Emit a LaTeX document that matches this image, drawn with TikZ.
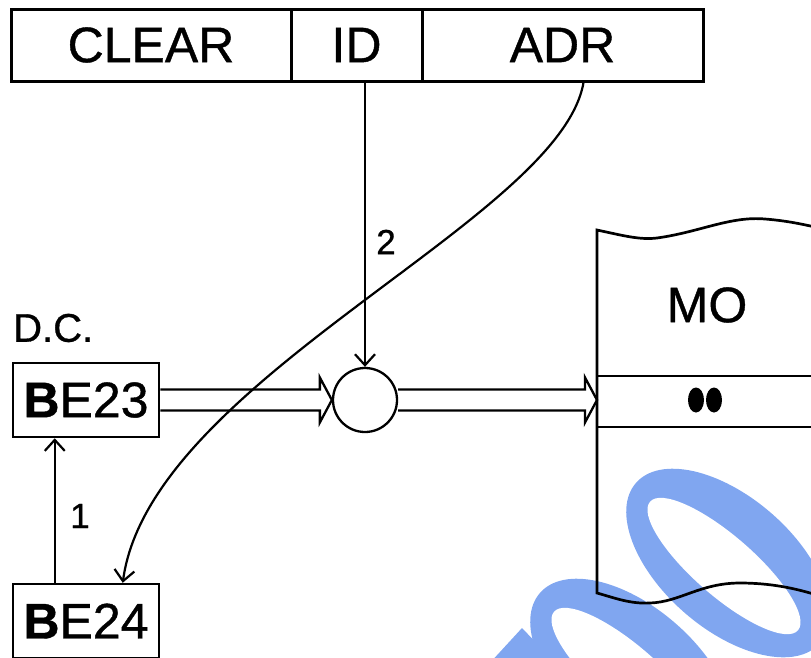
\documentclass[tikz,border=0pt]{standalone}
\usepackage{fontspec}
\setmainfont[FakeBold=0.8]{Liberation Sans}
\usetikzlibrary{arrows.meta,calc}
\definecolor{wmblue}{RGB}{128,166,240}
\newcommand\blockarrow[2]{%
  \draw[line width=2.3pt, line join=miter]
    ($(#1)+(0,-10.5)$) -- ($(#2)+(-12,-10.5)$) -- ($(#2)+(-12,-22.5)$) -- (#2)
    -- ($(#2)+(-12,22.5)$) -- ($(#2)+(-12,10.5)$) -- ($(#1)+(0,10.5)$);}
\begin{document}
\begin{tikzpicture}[x=1pt,y=-1pt,
  topbox/.style={draw, line width=3pt, rectangle, inner sep=0pt, minimum height=72pt,
                 font=\fontsize{50}{54}\selectfont},
  regbox/.style={draw, line width=2.5pt, rectangle, inner sep=0pt, minimum width=146pt,
                 minimum height=74pt, font=\fontsize{50}{54}\selectfont},
  arr/.style={line width=2.2pt, -{Straight Barb[length=11pt,width=20pt,line width=2.2pt]}},
  numlbl/.style={inner sep=0pt, font=\fontsize{35}{38}\selectfont},
  memline/.style={line width=2.7pt},
  wm/.style={fill=wmblue, even odd rule}]
\useasboundingbox (0,0) rectangle (811,657);

% watermark
\fill[wm, rotate around={-41:(728,563)}] (728,563) ellipse [x radius=122pt, y radius=66pt];
\fill[white, rotate around={-41:(724,566)}] (724,566) ellipse [x radius=98pt, y radius=30pt];
\fill[wm, rotate around={-41:(632,673)}] (632,673) ellipse [x radius=122pt, y radius=66pt];
\fill[white, rotate around={-41:(628,676)}] (628,676) ellipse [x radius=98pt, y radius=30pt];
\fill[wmblue] (522,628) -- (545,652) -- (548,665) -- (488,665) -- cycle;

% top register
\node[topbox, minimum width=280pt] (clear) at (151,45) {CLEAR};
\node[topbox, minimum width=131pt] (id) at (356.5,45) {ID};
\node[topbox, minimum width=281pt] (adr) at (562.5,45) {ADR};

% D.C. registers
\node[anchor=west, inner sep=0pt, font=\fontsize{40}{44}\selectfont] (dc) at (13,328) {D.C.};
\node[regbox] (be23) at (86,400) {\textbf{B}E23};
\node[regbox] (be24) at (86,621) {\textbf{B}E24};

% comparator circle
\node[draw, circle, line width=2.3pt, minimum size=64pt, inner sep=0pt] (circ) at (365,400) {};

% memory MO
\draw[memline] (820,228) .. controls (805,225) and (790,221) .. (765,219)
  .. controls (730,216) and (700,232) .. (657,238)
  .. controls (640,240) and (625,236) .. (597,230)
  -- (597,593)
  .. controls (615,598) and (630,604) .. (650,603)
  .. controls (680,602) and (700,583) .. (740,583)
  .. controls (770,583) and (795,588) .. (820,596);
\draw[memline] (597,376) -- (820,376);
\draw[memline] (597,427) -- (820,427);
\coordinate (moin) at (597,400);
\node[font=\fontsize{50}{54}\selectfont, inner sep=0pt] (mo) at (707,305) {MO};
\fill (696,400) ellipse [x radius=8pt, y radius=12.5pt];
\fill (714,400) ellipse [x radius=8pt, y radius=12.5pt];

% block arrows
\blockarrow{be23.east}{circ.west}
\blockarrow{circ.east}{moin}

% ID arrow
\draw[arr] (id.south -| circ.north) -- (circ.north);
\node[numlbl] (n2) at (386,242) {2};

% arrow 1
\coordinate (a1s) at ($(be24.north west)+(43,0)$);
\draw[arr] (a1s) -- (a1s |- be23.south);
\node[numlbl] (n1) at (80,516) {1};

% ADR curve
\coordinate (adrs) at ($(adr.south)+(21,0)$);
\coordinate (be24t) at ($(be24.north west)+(111,0)$);
\draw[arr] (adrs) .. controls (560,220) and (150,380) .. (be24t);
\end{tikzpicture}
\end{document}
